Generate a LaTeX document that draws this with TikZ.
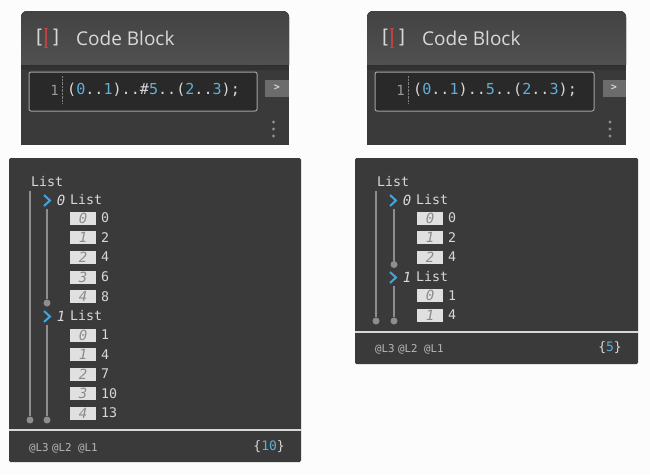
\documentclass[tikz,border=0pt]{standalone}
\usepackage{fontspec}
\setmainfont{Open Sans}
\setmonofont{DejaVu Sans Mono}
\definecolor{paneldark}{HTML}{3A3A3A}
\definecolor{headtop}{HTML}{434343}
\definecolor{headbot}{HTML}{505050}
\definecolor{txtlight}{HTML}{D8D8D8}
\definecolor{numblue}{HTML}{5FAFD8}
\definecolor{chevblue}{HTML}{45A5DA}
\definecolor{linegray}{HTML}{8E8E8E}
\definecolor{idxfill}{HTML}{E0E0E0}
\definecolor{barred}{HTML}{C2403F}
\newcommand{\nb}[1]{{\color{numblue}#1}}
\tikzset{
    x=1pt, y=-1pt,
    titletext/.style={anchor=west, inner sep=0, text=txtlight, font=\fontsize{19}{19}\selectfont},
    bracket/.style={anchor=center, inner sep=0, text=txtlight, font=\ttfamily\fontsize{19}{19}\selectfont},
    redbar/.style={draw=barred, line width=0.8pt, fill=barred},
    codebox/.style={draw=txtlight!75!black, line width=1pt, rounded corners=2pt, fill=black!80!paneldark, fill opacity=0.35},
    codetext/.style={anchor=west, inner sep=0, text=txtlight, font=\ttfamily\fontsize{15.1}{15}\selectfont},
    linenum/.style={anchor=east, inner sep=0, text=gray!80!white, font=\ttfamily\fontsize{14}{14}\selectfont},
    runbtn/.style={anchor=center, inner sep=0, text=txtlight, font=\ttfamily\bfseries\fontsize{10}{10}\selectfont},
    listtext/.style={anchor=west, inner sep=0, text=txtlight, font=\ttfamily\fontsize{13.3}{13}\selectfont},
    italictext/.style={anchor=center, inner sep=0, text=txtlight, font=\ttfamily\itshape\fontsize{14}{14}\selectfont},
    idxbox/.style={fill=idxfill, inner sep=0, outer sep=0, minimum width=26pt, minimum height=13pt, text=gray!90!white, font=\ttfamily\itshape\fontsize{14}{13}\selectfont},
    foottext/.style={anchor=west, inner sep=0, text=txtlight!85!black, font=\ttfamily\fontsize{10.8}{11}\selectfont},
    counttext/.style={anchor=east, inner sep=0, text=txtlight, font=\ttfamily\fontsize{13}{13}\selectfont},
    treeline/.style={draw=linegray, line width=1.6pt},
    treedot/.style={circle, fill=linegray, inner sep=0, minimum size=7pt},
    menudot/.style={circle, fill=linegray, inner sep=0, minimum size=3.2pt},
    chevron/.style={draw=chevblue, line width=2pt, miter limit=4},
}
\begin{document}
\begin{tikzpicture}
    \useasboundingbox (0,0) rectangle (650,475);
    \fill[white!99!black] (0,0) rectangle (650,475);

    % code block, left
    \fill[paneldark] (21,65) rectangle (289,145);
    \fill[top color=headtop, bottom color=headbot] (21,65) {[rounded corners=6pt] -- (21,11) -- (289,11)} -- (289,65) -- cycle;
    \fill[black, opacity=0.12] (21,65) rectangle (289,70);
    \node[bracket] (openA) at (39,38) {[};
    \node[bracket] (closeA) at (56,38) {]};
    \draw[barred, line width=2pt] (46,29) -- (46,47);
    \draw[barred, line width=0.8pt] (44,28.5) -- (48,28.5) (44,47.5) -- (48,47.5);
    \node[titletext] (titleA) at (76,38) {Code Block};
    \draw[codebox] (29,72) rectangle (257,111);
    \draw[gray, densely dotted] (62,76) -- (62,104);
    \node[linenum] (lineA) at (59,90) {1};
    \node[codetext] (codeA) at (67,90) {(\nb{0}..\nb{1})..\#\nb{5}..(\nb{2}..\nb{3});};
    \fill[gray!85!black] (265,80) rectangle (289,97);
    \node[runbtn] (runA) at (277,88) {>};
    \foreach \y in {122,129,136} {
        \node[menudot] at (273.5,\y) {};
    }

    % code block, right
    \fill[paneldark] (367,65) rectangle (626,145);
    \fill[top color=headtop, bottom color=headbot] (367,65) {[rounded corners=6pt] -- (367,11) -- (626,11)} -- (626,65) -- cycle;
    \fill[black, opacity=0.12] (367,65) rectangle (626,70);
    \node[bracket] (openB) at (385,38) {[};
    \node[bracket] (closeB) at (402,38) {]};
    \draw[barred, line width=2pt] (392,29) -- (392,47);
    \draw[barred, line width=0.8pt] (390,28.5) -- (394,28.5) (390,47.5) -- (394,47.5);
    \node[titletext] (titleB) at (422,38) {Code Block};
    \draw[codebox] (375,72) rectangle (594,111);
    \draw[gray, densely dotted] (408,76) -- (408,104);
    \node[linenum] (lineB) at (405,90) {1};
    \node[codetext] (codeB) at (413,90) {(\nb{0}..\nb{1})..\nb{5}..(\nb{2}..\nb{3});};
    \fill[gray!85!black] (603,80) rectangle (626,97);
    \node[runbtn] (runB) at (614,88) {>};
    \foreach \y in {122,129,136} {
        \node[menudot] at (610,\y) {};
    }

    % list panel, left
    \fill[paneldark, rounded corners=1.5pt] (9,158) rectangle (301,462);
    \draw[txtlight, line width=1.6pt] (9,430) -- (301,430);
    \node[listtext] (listA) at (31,182) {List};
    \coordinate (topA) at (30,191);
    \node[treedot] (endA) at (30,420) {};
    \draw[treeline] (topA) -- (endA);

    \draw[chevron] (44,195) -- (50,200.5) -- (44,206);
    \node[italictext] (subAa) at (61,200) {0};
    \node[listtext] (subtextAa) at (70,200) {List};
    \coordinate (topAa) at (47,209);
    \node[treedot] (endAa) at (47,303) {};
    \draw[treeline] (topAa) -- (endAa);
    \foreach \y/\k/\v [count=\i] in {218/0/0,237.5/1/2,257/2/4,277/3/6,296.5/4/8} {
        \node[idxbox] (idxAa\i) at (83,\y) {\k};
        \node[listtext] (valAa\i) at (101,\y) {\v};
    }

    \draw[chevron] (44,311) -- (50,316.5) -- (44,322);
    \node[italictext] (subAb) at (61,316) {1};
    \node[listtext] (subtextAb) at (70,316) {List};
    \coordinate (topAb) at (47,325);
    \node[treedot] (endAb) at (47,420) {};
    \draw[treeline] (topAb) -- (endAb);
    \foreach \y/\k/\v [count=\i] in {335/0/1,354.5/1/4,374/2/7,393.5/3/10,413/4/13} {
        \node[idxbox] (idxAb\i) at (83,\y) {\k};
        \node[listtext] (valAb\i) at (101,\y) {\v};
    }

    \node[foottext] (levAa) at (29,448) {@L3};
    \node[foottext] (levAb) at (52,448) {@L2};
    \node[foottext] (levAc) at (78,448) {@L1};
    \node[counttext] (countA) at (285,447) {\{\nb{10}\}};

    % list panel, right
    \fill[paneldark, rounded corners=1.5pt] (355,158) rectangle (638,364);
    \draw[txtlight, line width=1.6pt] (355,332) -- (638,332);
    \node[listtext] (listB) at (377,182) {List};
    \coordinate (topB) at (376,191);
    \node[treedot] (endB) at (376,321) {};
    \draw[treeline] (topB) -- (endB);

    \draw[chevron] (390,195) -- (396,200.5) -- (390,206);
    \node[italictext] (subBa) at (407,200) {0};
    \node[listtext] (subtextBa) at (416,200) {List};
    \coordinate (topBa) at (394,209);
    \node[treedot] (endBa) at (394,264.5) {};
    \draw[treeline] (topBa) -- (endBa);
    \foreach \y/\k/\v [count=\i] in {218/0/0,237.5/1/2,257/2/4} {
        \node[idxbox] (idxBa\i) at (430,\y) {\k};
        \node[listtext] (valBa\i) at (448,\y) {\v};
    }

    \draw[chevron] (390,272) -- (396,277.5) -- (390,283);
    \node[italictext] (subBb) at (407,277) {1};
    \node[listtext] (subtextBb) at (416,277) {List};
    \coordinate (topBb) at (394,286);
    \node[treedot] (endBb) at (394,321) {};
    \draw[treeline] (topBb) -- (endBb);
    \foreach \y/\k/\v [count=\i] in {295.5/0/1,315/1/4} {
        \node[idxbox] (idxBb\i) at (430,\y) {\k};
        \node[listtext] (valBb\i) at (448,\y) {\v};
    }

    \node[foottext] (levBa) at (375,349) {@L3};
    \node[foottext] (levBb) at (398,349) {@L2};
    \node[foottext] (levBc) at (424,349) {@L1};
    \node[counttext] (countB) at (622,348) {\{\nb{5}\}};
\end{tikzpicture}
\end{document}
